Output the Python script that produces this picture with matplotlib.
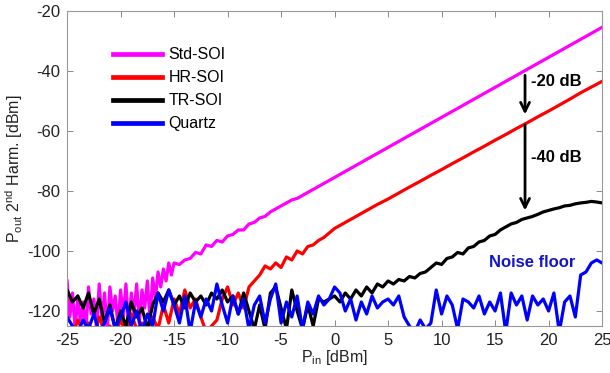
import numpy as np
import matplotlib
matplotlib.use("Agg")
import matplotlib.pyplot as plt

plt.rcParams['font.family'] = ['Liberation Sans', 'DejaVu Sans']
plt.rcParams['mathtext.default'] = 'regular'
plt.rcParams['axes.unicode_minus'] = False

# ---------------- data ----------------
std_x = np.concatenate([np.arange(-25, -14.9, 0.25), np.arange(-14.5, -1.9, 0.5), np.arange(-1, 25.1, 1)])
std_y = [-110, -122, -114, -126, -115, -124, -117, -127, -112, -121, -116, -126,
         -111, -123, -114, -127, -112, -120, -115, -125, -113, -122, -111, -126,
         -114, -121, -111, -124, -113, -119, -110, -123, -109, -116, -107, -112,
         -106, -110, -104, -108, -104,
         -104.5, -103, -102.5, -100.5, -101, -98, -98.5, -96.5, -97, -95, -94.5,
         -93, -93, -91, -90.5, -89, -88.5, -87, -86, -85, -84, -83, -82.5,
         -81.5, -80.5, -79.5,
         -77.5, -75.5, -73.5, -71.5, -69.5, -67.5, -65.5, -63.5, -61.5, -59.5,
         -57.5, -55.5, -53.5, -51.5, -49.5, -47.5, -45.5, -43.5, -41.5, -39.5,
         -37.5, -35.5, -33.5, -31.5, -29.5, -27.5, -25.5]

hr_x = np.concatenate([np.arange(-25, 0.1, 0.5), np.arange(1, 25.1, 1)])
hr_y = [-126, -128, -123, -127, -124, -128, -122, -127, -125, -128, -123, -127,
        -121, -126, -124, -127, -122, -126, -118, -124, -116, -121, -113, -119,
        -116, -122, -127, -125, -123, -116, -112, -118, -114, -119, -112, -110,
        -108, -105, -106, -104, -105.5, -102, -103, -100, -101, -98.5, -98,
        -96.5, -95.5, -94, -92.5,
        -90.5, -88.5, -86.5, -84.5, -82.7, -80.7, -78.7, -76.8, -74.8, -72.9,
        -70.9, -69, -67, -65.1, -63.1, -61.2, -59.2, -57.3, -55.3, -53.4,
        -51.4, -49.4, -47.3, -45.4, -43.5]

tr_x = np.arange(-25, 25.1, 0.5)
tr_y = [-113, -117, -115, -119, -114, -121, -116, -124, -118, -126, -120, -125,
        -117, -122, -119, -126, -118, -114, -117, -113, -118, -115, -119, -114,
        -117, -115, -118, -114, -116, -113, -117, -115, -121, -114, -120, -126,
        -118, -126, -114, -112, -119, -126, -113, -120, -126, -118, -125, -116,
        -117, -116, -115, -117, -114, -116, -113, -115, -112, -114, -111, -112,
        -110, -111, -109.5, -110, -108.5, -109, -107.5, -107, -105.5, -104,
        -104.5, -102.5, -102, -100.5, -101, -99, -98.5, -97, -96.5, -95, -94.5,
        -93, -92, -91, -90.5, -89.5, -89, -88.5, -87.8, -87, -86.5, -86, -85.6,
        -85, -84.8, -84.3, -84, -83.8, -83.5, -83.7, -84]

qz_x = np.arange(-25, 25.1, 0.5)
qz_y = [-122, -125, -127, -123, -126, -121, -127, -124, -119, -126, -122, -117,
        -125, -120, -127, -121, -125, -114, -120, -113, -118, -124, -115, -127,
        -117, -122, -116, -120, -111, -118, -124, -115, -121, -116, -126, -118,
        -115, -124, -116, -111, -124, -117, -122, -115, -126, -117, -121, -115,
        -118, -116, -112, -114, -120, -116, -123, -117, -121, -115, -119, -117,
        -116, -118, -115, -122, -125, -127, -123, -126, -124, -113, -121, -115,
        -118, -126, -116, -117, -119, -115, -121, -117, -120, -114, -127, -114,
        -118, -115, -123, -115, -118, -116, -120, -114, -127, -117, -115, -122,
        -108, -107, -104, -103, -104]

labels = ['Std-SOI', 'HR-SOI', 'TR-SOI', 'Quartz']
colors = ['#ff00ff', '#ff0000', '#000000', '#0000ff']
x_ticks = [-25, -20, -15, -10, -5, 0, 5, 10, 15, 20, 25]
y_ticks = [-120, -100, -80, -60, -40, -20]

# ---------------- figure ----------------
fig = plt.figure(figsize=(6.1, 3.73), dpi=100)
ax = fig.add_axes([0.110, 0.126, 0.877, 0.845])

series = [(std_x, std_y), (hr_x, hr_y), (tr_x, tr_y), (qz_x, qz_y)]
for (xx, yy), lab, col in zip(series, labels, colors):
    ax.plot(xx, yy, color=col, lw=2.3, label=lab, solid_joinstyle='round')

ax.set_xlim(-25, 25)
ax.set_ylim(-125, -20)
ax.set_xticks(x_ticks)
ax.set_yticks(y_ticks)
ax.tick_params(direction='in', length=4, width=0.6, colors='#777777',
               labelcolor='#222222', labelsize=12, top=True, right=True, pad=5)
for s in ax.spines.values():
    s.set_color('#999999')
    s.set_linewidth(0.8)

ax.set_xlabel('P$_{in}$ [dBm]', fontsize=11.5, labelpad=0, color='#222222')
ax.set_ylabel('P$_{out}$ 2$^{nd}$ Harm. [dBm]', fontsize=11.5, labelpad=1, color='#222222')

leg = ax.legend(loc='upper left', bbox_to_anchor=(0.058, 0.93), frameon=False,
                fontsize=11.5, handlelength=3.1, handletextpad=0.4, labelspacing=0.5)
for h in leg.get_lines():
    h.set_linewidth(3.4)

# annotations
ax.annotate('', xy=(17.8, -54.5), xytext=(17.8, -41.5),
            arrowprops=dict(arrowstyle='->', color='black', lw=2.0,
                            mutation_scale=16, shrinkA=0, shrinkB=0))
ax.annotate('', xy=(17.8, -86.5), xytext=(17.8, -58),
            arrowprops=dict(arrowstyle='->', color='black', lw=2.0,
                            mutation_scale=16, shrinkA=0, shrinkB=0))
ax.text(18.4, -43.5, '-20 dB', fontsize=12, fontweight='bold', va='center', ha='left')
ax.text(18.4, -69, '-40 dB', fontsize=12, fontweight='bold', va='center', ha='left')
ax.text(14.4, -104, 'Noise floor', fontsize=12, fontweight='bold', va='center',
        ha='left', color='#1515c8')

fig.savefig('out.png', dpi=100)
